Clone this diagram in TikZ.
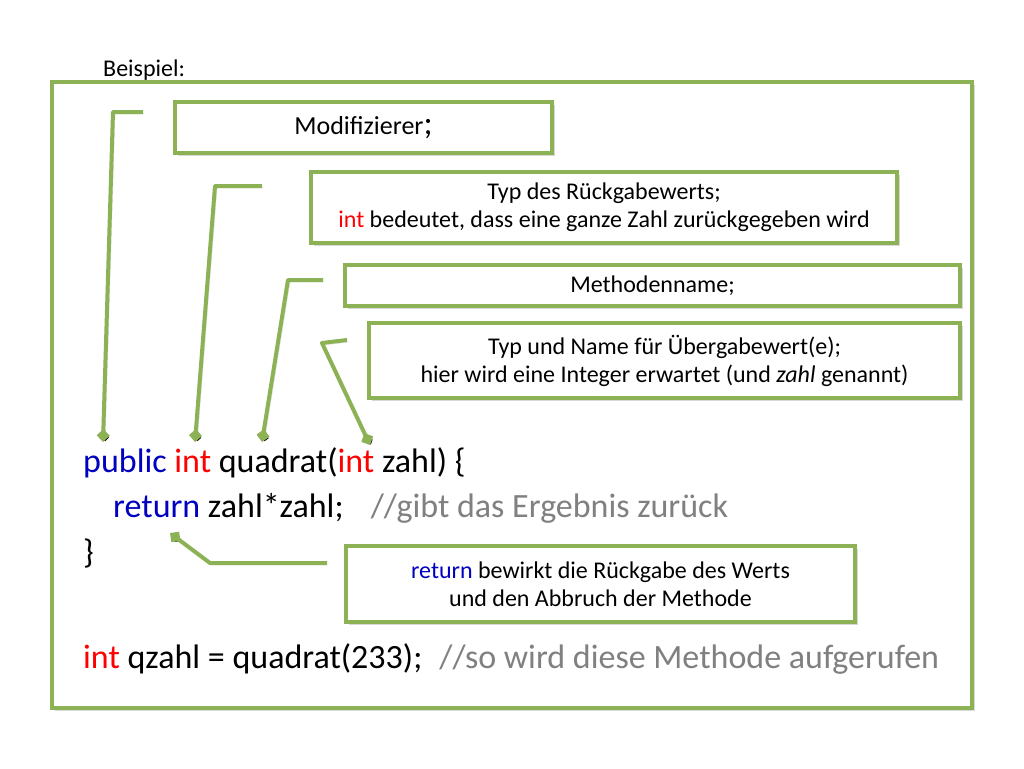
\documentclass[tikz,border=0pt]{standalone}
\usepackage{fontspec}
\setmainfont{Carlito}
\usetikzlibrary{arrows.meta,shadows}
\definecolor{rahmen}{HTML}{8DB255}
\definecolor{kwblau}{HTML}{0000C0}
\definecolor{kwrot}{HTML}{FF0000}
\definecolor{kommentar}{HTML}{808080}
\tikzset{
  kasten/.style={draw=rahmen, line width=4pt, fill=white, align=center, inner sep=0pt,
    drop shadow={opacity=0.3, shadow xshift=3pt, shadow yshift=-3pt},
    font=\fontsize{24}{28}\selectfont},
  zeiger/.style={draw=rahmen, line width=4pt, line join=round,
    -{Diamond[length=13pt,width=13pt]},
    preaction={draw=black, draw opacity=0.15, transform canvas={shift={(2pt,-2pt)}}}},
  code/.style={anchor=base west, inner sep=0pt, font=\fontsize{34}{40}\selectfont},
}
\begin{document}
\begin{tikzpicture}[x=1pt,y=-1pt]
\useasboundingbox (0,0) rectangle (1024,768);

\node[anchor=base west, inner sep=0pt, font=\fontsize{24}{28}\selectfont] (titel) at (103,76) {Beispiel:};
\node[kasten, minimum width=920pt, minimum height=626pt] (rahmen) at (512,395) {};

% Erklaerungen
\node[kasten, minimum width=377pt, minimum height=51pt, font=\fontsize{26}{28}\selectfont] (modif) at (363.5,127.5)
  {Modifizierer{\fontsize{34}{28}\selectfont;}};
\node[kasten, minimum width=586pt, minimum height=71pt] (rueck) at (604,207.5)
  {Typ des Rückgabewerts;\\ {\color{kwrot}int} bedeutet, dass eine ganze Zahl zurückgegeben wird};
\node[kasten, minimum width=615pt, minimum height=41pt] (name) at (652.5,285.5) {Methodenname;};
\node[kasten, minimum width=591pt, minimum height=75pt] (param) at (664.5,360.5)
  {Typ und Name für Übergabewert(e);\\ hier wird eine Integer erwartet (und \textit{zahl} genannt)};
\node[kasten, minimum width=509pt, minimum height=76pt] (ret) at (600.5,584)
  {{\color{kwblau}return} bewirkt die Rückgabe des Werts\\ und den Abbruch der Methode};

% Code
\node[code] (zeile1) at (83,472) {{\color{kwblau}public} {\color{kwrot}int} quadrat({\color{kwrot}int} zahl) \{};
\node[code] (zeile2) at (113,517) {{\color{kwblau}return} zahl*zahl;\hspace{0.8em}{\color{kommentar}//gibt das Ergebnis zurück}};
\node[code] (zeile3) at (83,563) {\}};
\node[code] (zeile4) at (83,668) {{\color{kwrot}int} qzahl = quadrat(233);\hspace{0.5em}{\color{kommentar}//so wird diese Methode aufgerufen}};

% Zeiger
\coordinate (a1) at (143,112); \coordinate (a2) at (113,112); \coordinate (a3) at (103,442);
\coordinate (b1) at (262,186); \coordinate (b2) at (215,186); \coordinate (b3) at (195,442);
\coordinate (c1) at (323,280); \coordinate (c2) at (288,280); \coordinate (c3) at (262,442);
\coordinate (d1) at (347,340); \coordinate (d2) at (322,343); \coordinate (d3) at (370,445);
\coordinate (e1) at (327,563); \coordinate (e2) at (210,563); \coordinate (e3) at (170,533);
\draw[zeiger] (a1) -- (a2) -- (a3);
\draw[zeiger] (b1) -- (b2) -- (b3);
\draw[zeiger] (c1) -- (c2) -- (c3);
\draw[zeiger] (d1) -- (d2) -- (d3);
\draw[zeiger] (e1) -- (e2) -- (e3);
\end{tikzpicture}
\end{document}
